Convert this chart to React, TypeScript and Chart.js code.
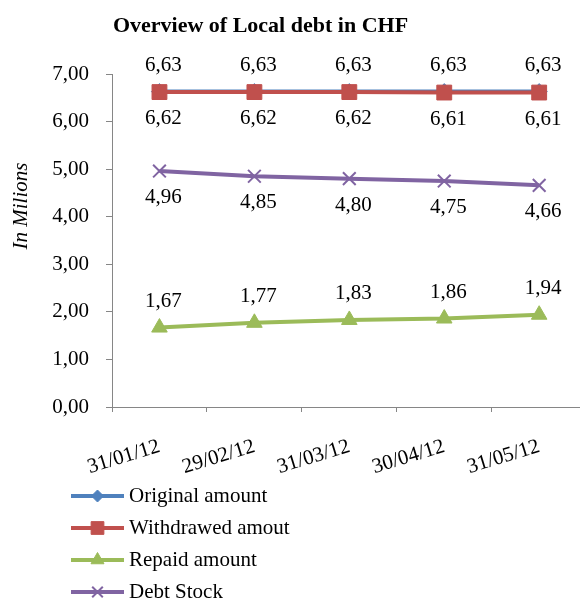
import React, { useEffect, useRef } from 'react';
import { Chart, registerables } from 'chart.js';
import { drawPoint } from 'chart.js/helpers';

Chart.register(...registerables);

const FONT = "'Liberation Serif', 'Times New Roman', serif";

const CATEGORIES = ['31/01/12', '29/02/12', '31/03/12', '30/04/12', '31/05/12'];
const ORIGINAL_AMOUNT = [6.63, 6.63, 6.63, 6.63, 6.63];
const WITHDRAWED_AMOUNT = [6.62, 6.62, 6.62, 6.61, 6.61];
const REPAID_AMOUNT = [1.67, 1.77, 1.83, 1.86, 1.94];
const DEBT_STOCK = [4.96, 4.85, 4.8, 4.75, 4.66];
const SERIES_NAMES = ['Original amount', 'Withdrawed amout', 'Repaid amount', 'Debt Stock'];
const Y_TICKS = [0, 1, 2, 3, 4, 5, 6, 7];
const CHART_TITLE = 'Overview of Local debt in CHF';
const Y_TITLE = 'In Milions';

const fmt = (v: number) => v.toFixed(2).replace('.', ',');
const toPoints = (arr: number[]) => arr.map((y, i) => ({ x: i, y }));

const AXIS_GREY = '#868686';

const titlePlugin = {
  id: 'excelTitles',
  afterDraw(chart: any) {
    const ctx = chart.ctx;
    ctx.save();
    ctx.fillStyle = '#000';
    ctx.textAlign = 'center';
    ctx.textBaseline = 'alphabetic';
    ctx.font = `bold 22px ${FONT}`;
    ctx.fillText(CHART_TITLE, 260.5, 32);
    ctx.font = `italic 21px ${FONT}`;
    ctx.translate(27, 206);
    ctx.rotate(-Math.PI / 2);
    ctx.fillText(Y_TITLE, 0, 0);
    ctx.restore();
  },
};

const dataLabelPlugin = {
  id: 'excelDataLabels',
  afterDatasetsDraw(chart: any) {
    const ctx = chart.ctx;
    ctx.save();
    ctx.fillStyle = '#000';
    ctx.textAlign = 'center';
    ctx.textBaseline = 'alphabetic';
    ctx.font = `21px ${FONT}`;
    chart.data.datasets.forEach((ds: any, i: number) => {
      const meta = chart.getDatasetMeta(i);
      meta.data.forEach((el: any, j: number) => {
        const v = ds.data[j].y;
        const y = ds.labelPos === 'above' ? el.y - 21 : el.y + 32;
        ctx.fillText(fmt(v), el.x + 4, y);
      });
    });
    ctx.restore();
  },
};

const legendPlugin = {
  id: 'excelLegend',
  afterDraw(chart: any) {
    const ctx = chart.ctx;
    const x0 = 71;
    const x1 = 124;
    const tx = 129;
    const y0 = 496;
    const dy = 32;
    chart.data.datasets.forEach((ds: any, i: number) => {
      const y = y0 + i * dy;
      ctx.save();
      ctx.strokeStyle = ds.borderColor;
      ctx.lineWidth = 4;
      ctx.beginPath();
      ctx.moveTo(x0, y);
      ctx.lineTo(x1, y);
      ctx.stroke();
      ctx.fillStyle = ds.pointBackgroundColor;
      ctx.strokeStyle = ds.pointBorderColor;
      ctx.lineWidth = ds.pointBorderWidth;
      drawPoint(
        ctx,
        { pointStyle: ds.pointStyle, radius: ds.legendRadius, borderWidth: ds.pointBorderWidth, rotation: 0 } as any,
        (x0 + x1) / 2,
        y
      );
      ctx.fillStyle = '#000';
      ctx.font = `21px ${FONT}`;
      ctx.textAlign = 'left';
      ctx.textBaseline = 'middle';
      ctx.fillText(ds.label, tx, y);
      ctx.restore();
    });
  },
};

export default function App() {
  const canvasRef = useRef<HTMLCanvasElement | null>(null);

  useEffect(() => {
    if (!canvasRef.current) return;
    const chart = new Chart(canvasRef.current, {
      type: 'line',
      data: {
        datasets: [
          {
            label: SERIES_NAMES[0],
            data: toPoints(ORIGINAL_AMOUNT),
            borderColor: '#4F81BD',
            backgroundColor: '#4F81BD',
            pointBackgroundColor: '#4F81BD',
            pointBorderColor: '#4F81BD',
            pointBorderWidth: 1,
            pointStyle: 'rectRot',
            pointRadius: 8,
            legendRadius: 6,
            borderWidth: 4,
            order: 1,
            labelPos: 'above',
          } as any,
          {
            label: SERIES_NAMES[1],
            data: toPoints(WITHDRAWED_AMOUNT),
            borderColor: '#C0504D',
            backgroundColor: '#C0504D',
            pointBackgroundColor: '#C0504D',
            pointBorderColor: '#C0504D',
            pointBorderWidth: 1,
            pointStyle: 'rect',
            pointRadius: 10.5,
            legendRadius: 9,
            borderWidth: 4,
            order: 0,
            labelPos: 'below',
          } as any,
          {
            label: SERIES_NAMES[2],
            data: toPoints(REPAID_AMOUNT),
            borderColor: '#9BBB59',
            backgroundColor: '#9BBB59',
            pointBackgroundColor: '#9BBB59',
            pointBorderColor: '#9BBB59',
            pointBorderWidth: 1,
            pointStyle: 'triangle',
            pointRadius: 9,
            legendRadius: 7.5,
            borderWidth: 4,
            order: 0,
            labelPos: 'above',
          } as any,
          {
            label: SERIES_NAMES[3],
            data: toPoints(DEBT_STOCK),
            borderColor: '#8064A2',
            backgroundColor: '#8064A2',
            pointBackgroundColor: '#8064A2',
            pointBorderColor: '#8064A2',
            pointBorderWidth: 2,
            pointStyle: 'crossRot',
            pointRadius: 9,
            legendRadius: 7.5,
            borderWidth: 4,
            order: 0,
            labelPos: 'below',
          } as any,
        ],
      },
      options: {
        responsive: false,
        devicePixelRatio: 1,
        animation: false,
        layout: { autoPadding: false, padding: { top: 74, left: 0, right: 0, bottom: 0 } },
        plugins: {
          legend: { display: false },
          title: { display: false },
          tooltip: { enabled: false },
        },
        elements: { line: { tension: 0 } },
        scales: {
          x: {
            type: 'linear',
            min: -0.5,
            max: 4.43,
            afterBuildTicks: (s: any) => {
              s.ticks = CATEGORIES.map((_, i) => ({ value: i }));
            },
            afterFit: (s: any) => {
              s.height = 196;
              s.paddingRight = 0;
              s.paddingLeft = 0;
            },
            grid: {
              offset: true,
              drawOnChartArea: false,
              drawTicks: true,
              tickLength: 5,
              color: AXIS_GREY,
              lineWidth: 1,
            },
            border: { display: true, color: AXIS_GREY, width: 1 },
            ticks: {
              autoSkip: false,
              minRotation: 17,
              maxRotation: 17,
              padding: 22,
              color: '#000',
              font: { family: FONT, size: 21 },
              callback: (_v: any, i: number) => CATEGORIES[i],
            },
          },
          y: {
            type: 'linear',
            min: 0,
            max: 7,
            afterBuildTicks: (s: any) => {
              s.ticks = Y_TICKS.map((v) => ({ value: v }));
            },
            afterFit: (s: any) => {
              s.width = 112;
            },
            grid: {
              drawOnChartArea: false,
              drawTicks: true,
              tickLength: 6,
              color: AXIS_GREY,
              lineWidth: 1,
            },
            border: { display: true, color: AXIS_GREY, width: 1 },
            ticks: {
              padding: 17,
              color: '#000',
              font: { family: FONT, size: 21 },
              callback: (v: any) => fmt(Number(v)),
            },
          },
        },
      } as any,
      plugins: [dataLabelPlugin, titlePlugin, legendPlugin],
    });
    return () => chart.destroy();
  }, []);

  return (
    <div style={{ position: 'absolute', left: 0, top: 0, width: 580, height: 603, background: '#fff' }}>
      <canvas ref={canvasRef} width={580} height={603} style={{ display: 'block' }} />
    </div>
  );
}
